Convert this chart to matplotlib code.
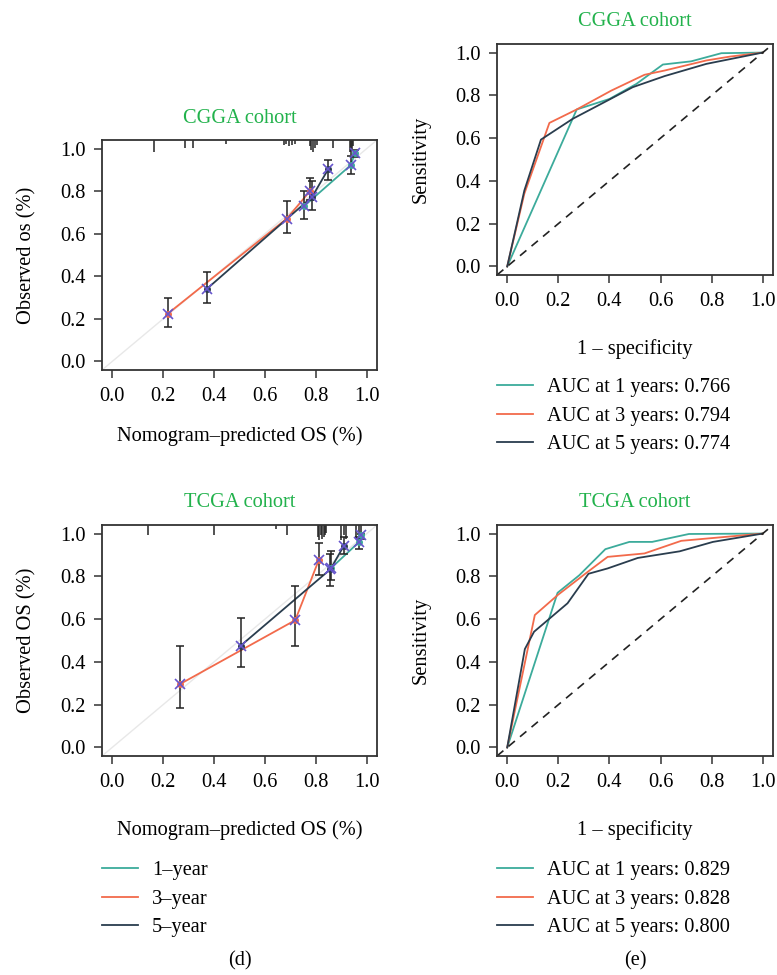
import numpy as np
import matplotlib
matplotlib.use('Agg')
import matplotlib.pyplot as plt
from matplotlib.lines import Line2D

plt.rcParams['font.family'] = ['Liberation Serif', 'DejaVu Serif']
plt.rcParams['font.size'] = 14.7

teal = '#3cab9b'
orange = '#f26a4b'
dark = '#2a3d4e'
mark_edge = '#6655cc'
green = '#22b24c'
box_col = '#333333'

# ----------- calibration data (CGGA) --------------
cgga_1y_pred = [0.753, 0.936, 0.954]
cgga_1y_obs = [0.729, 0.921, 0.980]
cgga_1y_lo = [0.667, 0.882, 0.959]
cgga_1y_hi = [0.799, 0.964, 0.995]
cgga_3y_pred = [0.218, 0.686, 0.776]
cgga_3y_obs = [0.224, 0.671, 0.799]
cgga_3y_lo = [0.162, 0.601, 0.760]
cgga_3y_hi = [0.298, 0.754, 0.861]
cgga_5y_pred = [0.371, 0.785, 0.848]
cgga_5y_obs = [0.340, 0.773, 0.902]
cgga_5y_lo = [0.274, 0.710, 0.854]
cgga_5y_hi = [0.422, 0.846, 0.947]
cgga_rug_x = [0.165, 0.287, 0.316, 0.447, 0.673, 0.684, 0.694, 0.705, 0.717,
              0.776, 0.782, 0.789, 0.795, 0.806, 0.867, 0.933, 0.937, 0.941, 0.945]
cgga_rug_h = [0.056, 0.037, 0.037, 0.019, 0.023, 0.019, 0.028, 0.023, 0.019,
              0.028, 0.047, 0.056, 0.037, 0.023, 0.037, 0.056, 0.070, 0.047, 0.030]

# ----------- calibration data (TCGA) --------------
tcga_1y_pred = [0.861, 0.970, 0.979]
tcga_1y_obs = [0.840, 0.961, 0.992]
tcga_1y_lo = [0.782, 0.930, 0.975]
tcga_1y_hi = [0.917, 0.984, 1.000]
tcga_3y_pred = [0.266, 0.719, 0.811]
tcga_3y_obs = [0.296, 0.595, 0.875]
tcga_3y_lo = [0.185, 0.473, 0.805]
tcga_3y_hi = [0.473, 0.754, 0.956]
tcga_5y_pred = [0.504, 0.857, 0.909]
tcga_5y_obs = [0.475, 0.833, 0.941]
tcga_5y_lo = [0.377, 0.754, 0.906]
tcga_5y_hi = [0.603, 0.906, 0.984]
tcga_rug_x = [0.139, 0.398, 0.644, 0.686, 0.808, 0.813, 0.819, 0.825, 0.830, 0.836, 0.841,
              0.900, 0.909, 0.917, 0.959, 0.970, 0.979]
tcga_rug_h = [0.047, 0.047, 0.019, 0.047, 0.056, 0.070, 0.047, 0.065, 0.056, 0.047, 0.037,
              0.070, 0.047, 0.065, 0.065, 0.047, 0.070]

# ----------- ROC data (CGGA) --------------
cgga_roc1_fpr = [0, 0.272, 0.400, 0.505, 0.609, 0.720, 0.838, 1.0]
cgga_roc1_tpr = [0, 0.734, 0.783, 0.853, 0.944, 0.959, 0.997, 1.0]
cgga_roc3_fpr = [0, 0.067, 0.165, 0.272, 0.407, 0.537, 0.616, 0.779, 0.871, 1.0]
cgga_roc3_tpr = [0, 0.340, 0.671, 0.734, 0.822, 0.896, 0.916, 0.963, 0.981, 1.0]
cgga_roc5_fpr = [0, 0.067, 0.132, 0.256, 0.393, 0.491, 0.616, 0.779, 1.0]
cgga_roc5_tpr = [0, 0.355, 0.593, 0.690, 0.776, 0.838, 0.890, 0.947, 1.0]
cgga_auc = ['0.766', '0.794', '0.774']

# ----------- ROC data (TCGA) --------------
tcga_roc1_fpr = [0, 0.197, 0.282, 0.384, 0.478, 0.567, 0.711, 1.0]
tcga_roc1_tpr = [0, 0.723, 0.805, 0.927, 0.961, 0.961, 0.998, 1.0]
tcga_roc3_fpr = [0, 0.108, 0.197, 0.315, 0.393, 0.537, 0.681, 1.0]
tcga_roc3_tpr = [0, 0.619, 0.712, 0.821, 0.891, 0.907, 0.966, 1.0]
tcga_roc5_fpr = [0, 0.069, 0.105, 0.236, 0.318, 0.393, 0.511, 0.675, 0.805, 1.0]
tcga_roc5_tpr = [0, 0.460, 0.541, 0.674, 0.812, 0.837, 0.886, 0.917, 0.961, 1.0]
tcga_auc = ['0.829', '0.828', '0.800']

ticks = [0.0, 0.2, 0.4, 0.6, 0.8, 1.0]
tick_labels = ['0.0', '0.2', '0.4', '0.6', '0.8', '1.0']
lim = (-0.04, 1.04)

fig = plt.figure(figsize=(7.77, 9.75), dpi=100, facecolor='w')


def style_axes(ax):
    ax.set_xlim(lim)
    ax.set_ylim(lim)
    ax.set_xticks(ticks)
    ax.set_xticklabels(tick_labels)
    ax.set_yticks(ticks)
    ax.set_yticklabels(tick_labels)
    ax.tick_params(direction='out', length=5.5, width=1.1, color=box_col)
    ax.tick_params(axis='x', pad=7)
    ax.tick_params(axis='y', pad=6)
    for s in ax.spines.values():
        s.set_linewidth(1.3)
        s.set_color(box_col)


def calib_panel(ax, series, rug_x, rug_h, title, ylabel, title_pad, xpad):
    style_axes(ax)
    ax.plot(lim, lim, color='#e8e8e8', lw=1, zorder=1)
    for pred, obs, lo, hi, col in series:
        pred = np.array(pred)
        obs = np.array(obs)
        ax.plot(pred, obs, color=col, lw=1.3, zorder=2)
        ax.errorbar(pred, obs, yerr=[obs - np.array(lo), np.array(hi) - obs], fmt='none',
                    ecolor='#222222', elinewidth=1.1, capsize=3, capthick=1.1, zorder=3)
        ax.plot(pred, obs, ls='none', marker='o', ms=4, mfc=col, mec=col, zorder=4)
        ax.plot(pred, obs, ls='none', marker='x', ms=7, mec=mark_edge, mew=1.2, zorder=5)
    top = lim[1]
    ax.vlines(rug_x, top - np.array(rug_h), top, color='#222222', lw=1.1, zorder=2)
    ax.set_title(title, color=green, fontsize=14.7, pad=title_pad)
    ax.set_xlabel('Nomogram\u2013predicted OS (%)', labelpad=xpad)
    ax.set_ylabel(ylabel, labelpad=17)


def roc_panel(ax, series, title, title_pad):
    style_axes(ax)
    for fpr, tpr, col in series:
        ax.plot(fpr, tpr, color=col, lw=1.3)
    ax.plot(lim, lim, color='#222222', lw=1.2, ls=(0, (5, 4)))
    ax.set_title(title, color=green, fontsize=14.7, pad=title_pad)
    ax.set_xlabel('1 \u2013 specificity', labelpad=20)
    ax.set_ylabel('Sensitivity', labelpad=18)


def add_legend(ax, labels, x, y):
    handles = [Line2D([], [], color=c, lw=1.3) for c in (teal, orange, dark)]
    ax.legend(handles, labels, loc='upper left', bbox_to_anchor=(x / 777, 1 - y / 975),
              bbox_transform=fig.transFigure, frameon=False, handlelength=1.75,
              handletextpad=0.7, labelspacing=0.45, borderpad=0, borderaxespad=0,
              fontsize=14.7)


ax_tl = fig.add_axes([102 / 777, 1 - 370 / 975, 275 / 777, 230 / 975])
ax_tr = fig.add_axes([497 / 777, 1 - 275 / 975, 276 / 777, 231 / 975])
ax_bl = fig.add_axes([102 / 777, 1 - 756 / 975, 275 / 777, 231 / 975])
ax_br = fig.add_axes([497 / 777, 1 - 756 / 975, 276 / 777, 231 / 975])

calib_panel(ax_tl, [(cgga_1y_pred, cgga_1y_obs, cgga_1y_lo, cgga_1y_hi, teal),
                    (cgga_3y_pred, cgga_3y_obs, cgga_3y_lo, cgga_3y_hi, orange),
                    (cgga_5y_pred, cgga_5y_obs, cgga_5y_lo, cgga_5y_hi, dark)],
            cgga_rug_x, cgga_rug_h, 'CGGA cohort', 'Observed os (%)', 12, 14)
calib_panel(ax_bl, [(tcga_1y_pred, tcga_1y_obs, tcga_1y_lo, tcga_1y_hi, teal),
                    (tcga_3y_pred, tcga_3y_obs, tcga_3y_lo, tcga_3y_hi, orange),
                    (tcga_5y_pred, tcga_5y_obs, tcga_5y_lo, tcga_5y_hi, dark)],
            tcga_rug_x, tcga_rug_h, 'TCGA cohort', 'Observed OS (%)', 13, 20)

roc_panel(ax_tr, [(cgga_roc1_fpr, cgga_roc1_tpr, teal),
                  (cgga_roc3_fpr, cgga_roc3_tpr, orange),
                  (cgga_roc5_fpr, cgga_roc5_tpr, dark)], 'CGGA cohort', 13)
roc_panel(ax_br, [(tcga_roc1_fpr, tcga_roc1_tpr, teal),
                  (tcga_roc3_fpr, tcga_roc3_tpr, orange),
                  (tcga_roc5_fpr, tcga_roc5_tpr, dark)], 'TCGA cohort', 13)

add_legend(ax_tr, ['AUC at %d years: %s' % (y, a) for y, a in zip([1, 3, 5], cgga_auc)], 497, 378)
add_legend(ax_br, ['AUC at %d years: %s' % (y, a) for y, a in zip([1, 3, 5], tcga_auc)], 497, 861)
add_legend(ax_bl, ['1\u2013year', '3\u2013year', '5\u2013year'], 102, 861)

fig.text(240 / 777, 1 - 961 / 975, '(d)', ha='center', va='center', fontsize=14.7)
fig.text(635 / 777, 1 - 961 / 975, '(e)', ha='center', va='center', fontsize=14.7)

fig.savefig('out.png', dpi=100)
